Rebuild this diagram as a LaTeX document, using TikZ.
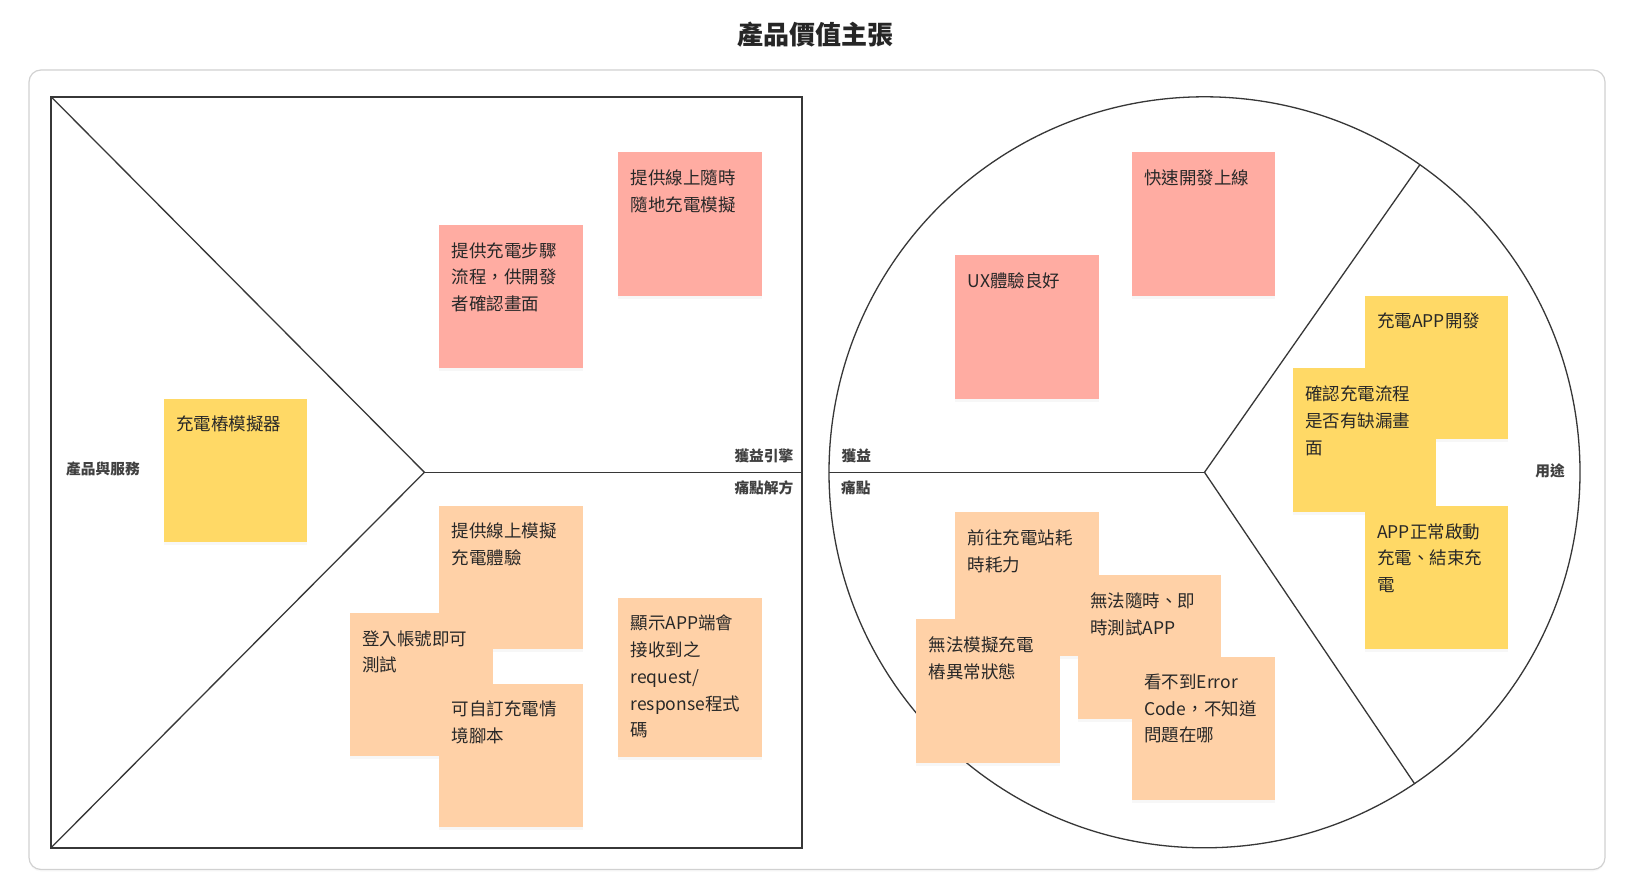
\documentclass[tikz,border=0pt]{standalone}
\usepackage{fontspec}
\setmainfont{Noto Sans CJK TC}
\usetikzlibrary{shadows}
\definecolor{gainnote}{RGB}{255, 172, 162}
\definecolor{painnote}{RGB}{255, 209, 167}
\definecolor{jobnote}{RGB}{255, 217, 102}
\definecolor{canvasink}{RGB}{55, 55, 55}
\definecolor{noteink}{RGB}{40, 40, 40}

\begin{document}
\begin{tikzpicture}[
	x=1pt, y=-1pt,
	font=\fontsize{17.5}{26.7}\selectfont,
	% Styles for the canvas outline and the sticky notes
	canvasline/.style={draw=canvasink, line width=1.3pt},
	note/.style={minimum width=143.5pt, minimum height=143.5pt, inner sep=0pt, anchor=north west,
		drop shadow={opacity=0.06, shadow xshift=0pt, shadow yshift=-3pt}},
	notetext/.style={anchor=north west, align=left, inner sep=0pt, text=noteink},
	areatitle/.style={font=\fontsize{14.7}{17}\selectfont\bfseries, text=black!75, inner sep=0pt}
	]
	\useasboundingbox (0,0) rectangle (1631,891);
	
	% ==========================================
	% 1. TITLE AND FRAME
	% ==========================================
	\node[font=\fontsize{26}{30}\selectfont\bfseries, text=black!85] (title) at (815.5,35) {產品價值主張};
	\draw[draw=black!18, fill=white, line width=1.2pt, rounded corners=12pt,
		drop shadow={opacity=0.05, shadow xshift=0pt, shadow yshift=-2pt}] (29,70) rectangle (1605,869.5);
	
	% ==========================================
	% 2. VALUE MAP (square)
	% ==========================================
	\coordinate (sq-nw) at (51,96.7);
	\coordinate (sq-ne) at (802,96.7);
	\coordinate (sq-sw) at (51,847.8);
	\coordinate (sq-se) at (802,847.8);
	\coordinate (apex) at (424.4,472.3);
	\coordinate (sq-e) at (802,472.3);
	\draw[canvasline, line width=1.6pt] (sq-nw) rectangle (sq-se);
	\draw[canvasline] (sq-nw) -- (apex) -- (sq-sw);
	\draw[canvasline] (apex) -- (sq-e);
	
	\node[areatitle, anchor=east] (engine) at (793.5,455.5) {獲益引擎};
	\node[areatitle, anchor=east] (reliever) at (793.5,488) {痛點解方};
	\node[areatitle, anchor=west] (offer) at (66,469) {產品與服務};
	
	% ==========================================
	% 3. CUSTOMER PROFILE (circle)
	% ==========================================
	\coordinate (hub) at (1204.5,472.3);
	\draw[canvasline] (hub) circle[radius=375.5pt];
	\draw[canvasline] (hub) -- ++(-375.5pt,0pt);
	\draw[canvasline] (hub) -- ++(55:375.5pt);
	\draw[canvasline] (hub) -- ++(-56:375.5pt);
	
	\node[areatitle, anchor=west] (gain) at (841.5,456) {獲益};
	\node[areatitle, anchor=west] (pain) at (841,488) {痛點};
	\node[areatitle, anchor=east] (job) at (1565,471) {用途};
	
	% ==========================================
	% 4. NOTES ON THE VALUE MAP
	% ==========================================
	% Gain creators
	\node[note, fill=gainnote] (gc1) at (439,224.7) {};
	\node[notetext] at ([shift={(12.5,17.5)}]gc1.north west) {提供充電步驟\\流程，供開發\\者確認畫面};
	\node[note, fill=gainnote] (gc2) at (617.9,151.9) {};
	\node[notetext] at ([shift={(12.5,17.5)}]gc2.north west) {提供線上隨時\\隨地充電模擬};
	
	% Products and services
	\node[note, fill=jobnote] (ps1) at (163.3,398.4) {};
	\node[notetext] at ([shift={(12.5,17.5)}]ps1.north west) {充電樁模擬器};
	
	% Pain relievers (drawn in stacking order)
	\node[note, fill=painnote] (pr1) at (439,505.5) {};
	\node[notetext] at ([shift={(12.5,17.5)}]pr1.north west) {提供線上模擬\\充電體驗};
	\node[note, fill=painnote] (pr2) at (349.5,612.7) {};
	\node[notetext] at ([shift={(12.5,17.5)}]pr2.north west) {登入帳號即可\\測試};
	\node[note, fill=painnote] (pr3) at (439,683.4) {};
	\node[notetext] at ([shift={(12.5,17.5)}]pr3.north west) {可自訂充電情\\境腳本};
	\node[note, fill=painnote, minimum height=159pt] (pr4) at (617.9,597.5) {};
	\node[notetext] at ([shift={(12.5,17.5)}]pr4.north west) {顯示APP端會\\接收到之\\request/\\response程式\\碼};
	
	% ==========================================
	% 5. NOTES ON THE CUSTOMER PROFILE
	% ==========================================
	% Gains
	\node[note, fill=gainnote] (ga1) at (1131.5,151.9) {};
	\node[notetext] at ([shift={(12.5,17.5)}]ga1.north west) {快速開發上線};
	\node[note, fill=gainnote] (ga2) at (955.2,254.8) {};
	\node[notetext] at ([shift={(12.5,17.5)}]ga2.north west) {UX體驗良好};
	
	% Customer jobs
	\node[note, fill=jobnote] (jb1) at (1364.5,295.4) {};
	\node[notetext] at ([shift={(12.5,17.5)}]jb1.north west) {充電APP開發};
	\node[note, fill=jobnote] (jb2) at (1292.3,368.2) {};
	\node[notetext] at ([shift={(12.5,17.5)}]jb2.north west) {確認充電流程\\是否有缺漏畫\\面};
	\node[note, fill=jobnote] (jb3) at (1364.5,505.6) {};
	\node[notetext] at ([shift={(12.5,17.5)}]jb3.north west) {APP正常啟動\\充電、結束充\\電};
	
	% Pains
	\node[note, fill=painnote] (pn1) at (955.2,511.9) {};
	\node[notetext] at ([shift={(12.5,17.5)}]pn1.north west) {前往充電站耗\\時耗力};
	\node[note, fill=painnote] (pn2) at (915.8,619) {};
	\node[notetext] at ([shift={(12.5,17.5)}]pn2.north west) {無法模擬充電\\樁異常狀態};
	\node[note, fill=painnote] (pn3) at (1077.7,575) {};
	\node[notetext] at ([shift={(12.5,17.5)}]pn3.north west) {無法隨時、即\\時測試APP};
	\node[note, fill=painnote] (pn4) at (1131.5,656.3) {};
	\node[notetext] at ([shift={(12.5,17.5)}]pn4.north west) {看不到Error\\Code，不知道\\問題在哪};
	
\end{tikzpicture}
\end{document}
